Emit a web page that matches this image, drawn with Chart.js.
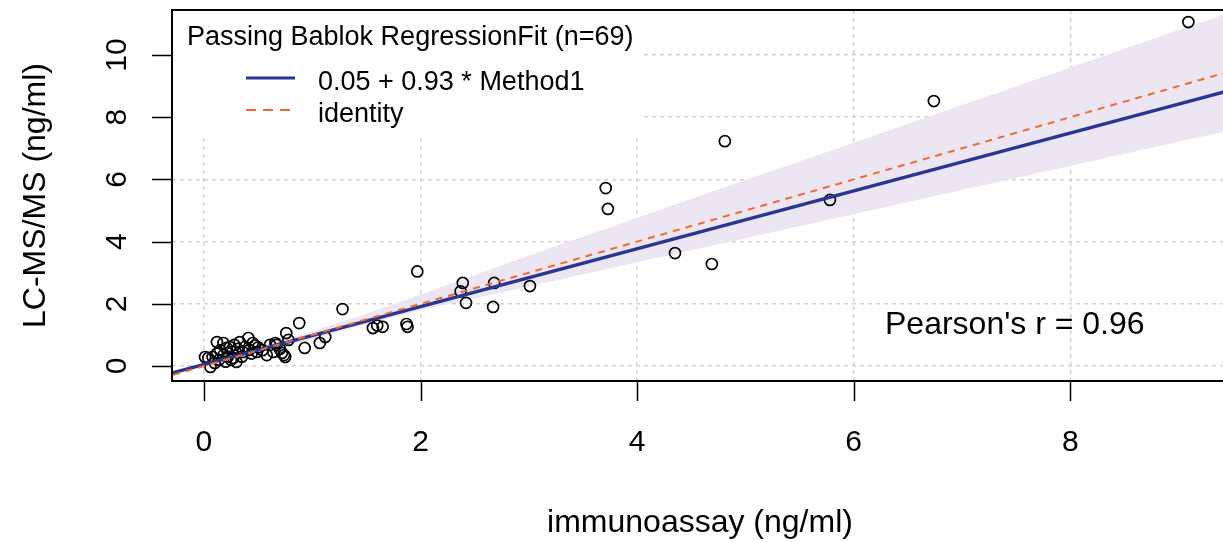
<!DOCTYPE html>
<html>
<head>
<meta charset="utf-8">
<title>Passing Bablok</title>
<script src="https://cdn.jsdelivr.net/npm/chart.js@4.4.1/dist/chart.umd.min.js"></script>
<style>
  html, body { margin: 0; padding: 0; background: #fff; }
  #wrap { width: 1223px; height: 542px; }
</style>
</head>
<body>
<div id="wrap"><canvas id="pb" width="1223" height="542"></canvas></div>
<script>
// data
const immunoassay = [
  9.09, 6.74, 4.81, 3.71, 3.73, 5.78, 4.35, 4.69, 1.97, 2.39,
  2.37, 2.42, 2.68, 2.67, 3.01, 1.28, 1.87, 1.88, 1.56, 1.60,
  1.65, 0.88, 0.76, 0.93, 1.07, 1.12, 0.74, 0.66, 0.01, 0.12,
  0.18, 0.24, 0.33, 0.41, 0.45, 0.61, 0.67, 0.75, 0.78, 0.30,
  0.06, 0.08, 0.18, 0.26, 0.36, 0.49, 0.54, 0.64, 0.58, 0.21,
  0.15, 0.04, 0.27, 0.72, 0.10, 0.14, 0.22, 0.31, 0.38, 0.44,
  0.50, 0.28, 0.35, 0.20, 0.42, 0.70, 0.12, 0.25, 0.47
];
const lcmsms = [
  11.06, 8.52, 7.23, 5.72, 5.05, 5.34, 3.63, 3.28, 3.04, 2.67,
  2.40, 2.03, 2.67, 1.90, 2.57, 1.83, 1.35, 1.26, 1.22, 1.30,
  1.26, 1.38, 1.06, 0.58, 0.74, 0.93, 0.35, 0.74, 0.29, 0.77,
  0.74, 0.61, 0.77, 0.90, 0.74, 0.68, 0.68, 0.29, 0.84, 0.13,
  -0.03, 0.29, 0.35, 0.45, 0.45, 0.45, 0.51, 0.45, 0.35, 0.58,
  0.51, 0.26, 0.26, 0.42, 0.10, 0.20, 0.30, 0.55, 0.62, 0.40,
  0.60, 0.68, 0.30, 0.14, 0.52, 0.55, 0.40, 0.20, 0.66
];

// fit: 0.05 + 0.93 * Method1
const fitCoef = [0.05, 0.93];
const lineEnds = [-0.4, 9.6];

// confidence band
const bandX     = [-0.3, 0, 0.5, 1, 1.5, 2, 3, 4, 5, 6, 7, 8, 9, 9.5];
const bandUpper = [-0.19, 0.09, 0.60, 1.12, 1.68, 2.30, 3.55, 4.77, 5.98, 7.18, 8.39, 9.60, 10.80, 11.40];
const bandLower = [-0.27, 0.01, 0.44, 0.85, 1.35, 1.79, 2.56, 3.34, 4.11, 4.88, 5.66, 6.43, 7.21, 7.59];

const xTicks = [0, 2, 4, 6, 8];
const yTicks = [0, 2, 4, 6, 8, 10];

const legendTitle = 'Passing Bablok RegressionFit (n=69)';
const legendItems = ['0.05 + 0.93 * Method1', 'identity'];
const pearsonText = "Pearson's r = 0.96";

const FONT = '"Liberation Sans", Arial, sans-serif';
const BLUE = '#283593';
const ORANGE = '#ef6a2c';
const BAND = '#ebe6f1';

const pts = immunoassay.map((v, i) => ({ x: v, y: lcmsms[i] }));
const fitLine = lineEnds.map(v => ({ x: v, y: fitCoef[0] + fitCoef[1] * v }));
const identLine = lineEnds.map(v => ({ x: v, y: v }));

// frame, ticks, texts and legend, drawn R style
const frame = {
  id: 'frame',
  beforeDatasetsDraw(chart) {
    const { ctx, chartArea: a } = chart;
    ctx.save();
    ctx.fillStyle = '#fff';
    ctx.fillRect(a.left, a.top, 641 - a.left, 135 - a.top);
    ctx.restore();
  },
  afterDraw(chart) {
    const { ctx, chartArea: a, scales: { x, y } } = chart;
    ctx.save();

    // box (right side runs off the picture)
    ctx.strokeStyle = '#000';
    ctx.lineWidth = 2;
    ctx.beginPath();
    ctx.moveTo(a.right + 5, a.top);
    ctx.lineTo(a.left, a.top);
    ctx.lineTo(a.left, a.bottom);
    ctx.lineTo(a.right + 5, a.bottom);
    ctx.stroke();

    // tick marks
    ctx.lineWidth = 1.5;
    ctx.beginPath();
    xTicks.forEach(v => {
      const px = Math.round(x.getPixelForValue(v)) + 0.5;
      ctx.moveTo(px, a.bottom);
      ctx.lineTo(px, a.bottom + 20);
    });
    yTicks.forEach(v => {
      const py = Math.round(y.getPixelForValue(v)) + 0.5;
      ctx.moveTo(a.left - 20, py);
      ctx.lineTo(a.left, py);
    });
    ctx.stroke();

    // tick labels
    ctx.fillStyle = '#000';
    ctx.font = '30px ' + FONT;
    ctx.textAlign = 'center';
    ctx.textBaseline = 'alphabetic';
    xTicks.forEach(v => ctx.fillText(String(v), x.getPixelForValue(v), 451));
    yTicks.forEach(v => {
      ctx.save();
      ctx.translate(126, y.getPixelForValue(v));
      ctx.rotate(-Math.PI / 2);
      ctx.fillText(String(v), 0, 0);
      ctx.restore();
    });

    // axis titles
    ctx.font = '32px ' + FONT;
    ctx.fillText('immunoassay (ng/ml)', 700, 532);
    ctx.save();
    ctx.translate(45, (a.top + a.bottom) / 2);
    ctx.rotate(-Math.PI / 2);
    ctx.fillText('LC-MS/MS (ng/ml)', 0, 0);
    ctx.restore();

    // legend
    ctx.textAlign = 'left';
    ctx.font = '27px ' + FONT;
    ctx.fillText(legendTitle, 187, 45);
    ctx.fillText(legendItems[0], 318, 90);
    ctx.fillText(legendItems[1], 318, 122);
    ctx.strokeStyle = BLUE;
    ctx.lineWidth = 3;
    ctx.beginPath();
    ctx.moveTo(246, 78);
    ctx.lineTo(295, 78);
    ctx.stroke();
    ctx.strokeStyle = ORANGE;
    ctx.lineWidth = 2;
    ctx.setLineDash([10, 7]);
    ctx.beginPath();
    ctx.moveTo(246, 110);
    ctx.lineTo(290, 110);
    ctx.stroke();
    ctx.setLineDash([]);

    // correlation
    ctx.fillStyle = '#000';
    ctx.font = '32px ' + FONT;
    ctx.fillText(pearsonText, 885, 334);

    ctx.restore();
  }
};

const gridOpts = { color: '#d2d2d2', lineWidth: 1.5, drawTicks: false };

new Chart(document.getElementById('pb'), {
  type: 'scatter',
  data: {
    datasets: [
      {
        // identity
        type: 'line',
        data: identLine,
        borderColor: ORANGE,
        borderWidth: 2,
        borderDash: [7, 6],
        pointRadius: 0,
        fill: false,
      },
      {
        // fit
        type: 'line',
        data: fitLine,
        borderColor: BLUE,
        borderWidth: 3.5,
        pointRadius: 0,
        fill: false,
      },
      {
        // observations
        data: pts,
        pointStyle: 'circle',
        pointRadius: 5.5,
        borderWidth: 1.7,
        borderColor: '#000',
        backgroundColor: 'rgba(0,0,0,0)',
      },
      {
        // band upper
        type: 'line',
        data: bandX.map((v, i) => ({ x: v, y: bandUpper[i] })),
        borderWidth: 0,
        borderColor: 'rgba(0,0,0,0)',
        backgroundColor: BAND,
        pointRadius: 0,
        fill: '+1',
      },
      {
        // band lower
        type: 'line',
        data: bandX.map((v, i) => ({ x: v, y: bandLower[i] })),
        borderWidth: 0,
        borderColor: 'rgba(0,0,0,0)',
        pointRadius: 0,
        fill: false,
      },
    ],
  },
  options: {
    responsive: false,
    animation: false,
    devicePixelRatio: 1,
    layout: { autoPadding: false, padding: { top: 10, right: 0, left: 0, bottom: 0 } },
    plugins: {
      legend: { display: false },
      tooltip: { enabled: false },
    },
    scales: {
      x: {
        type: 'linear',
        min: -0.295,
        max: 9.41,
        afterBuildTicks: s => { s.ticks = xTicks.map(v => ({ value: v })); },
        afterFit: s => { s.height = 161; s.paddingLeft = 0; s.paddingRight = 0; },
        ticks: { display: false },
        grid: gridOpts,
        border: { display: false, dash: [4, 4] },
      },
      y: {
        type: 'linear',
        min: -0.482,
        max: 11.447,
        afterBuildTicks: s => { s.ticks = yTicks.map(v => ({ value: v })); },
        afterFit: s => { s.width = 172; s.paddingTop = 0; s.paddingBottom = 0; },
        ticks: { display: false },
        grid: gridOpts,
        border: { display: false, dash: [4, 4] },
      },
    },
  },
  plugins: [frame],
});
</script>
</body>
</html>
